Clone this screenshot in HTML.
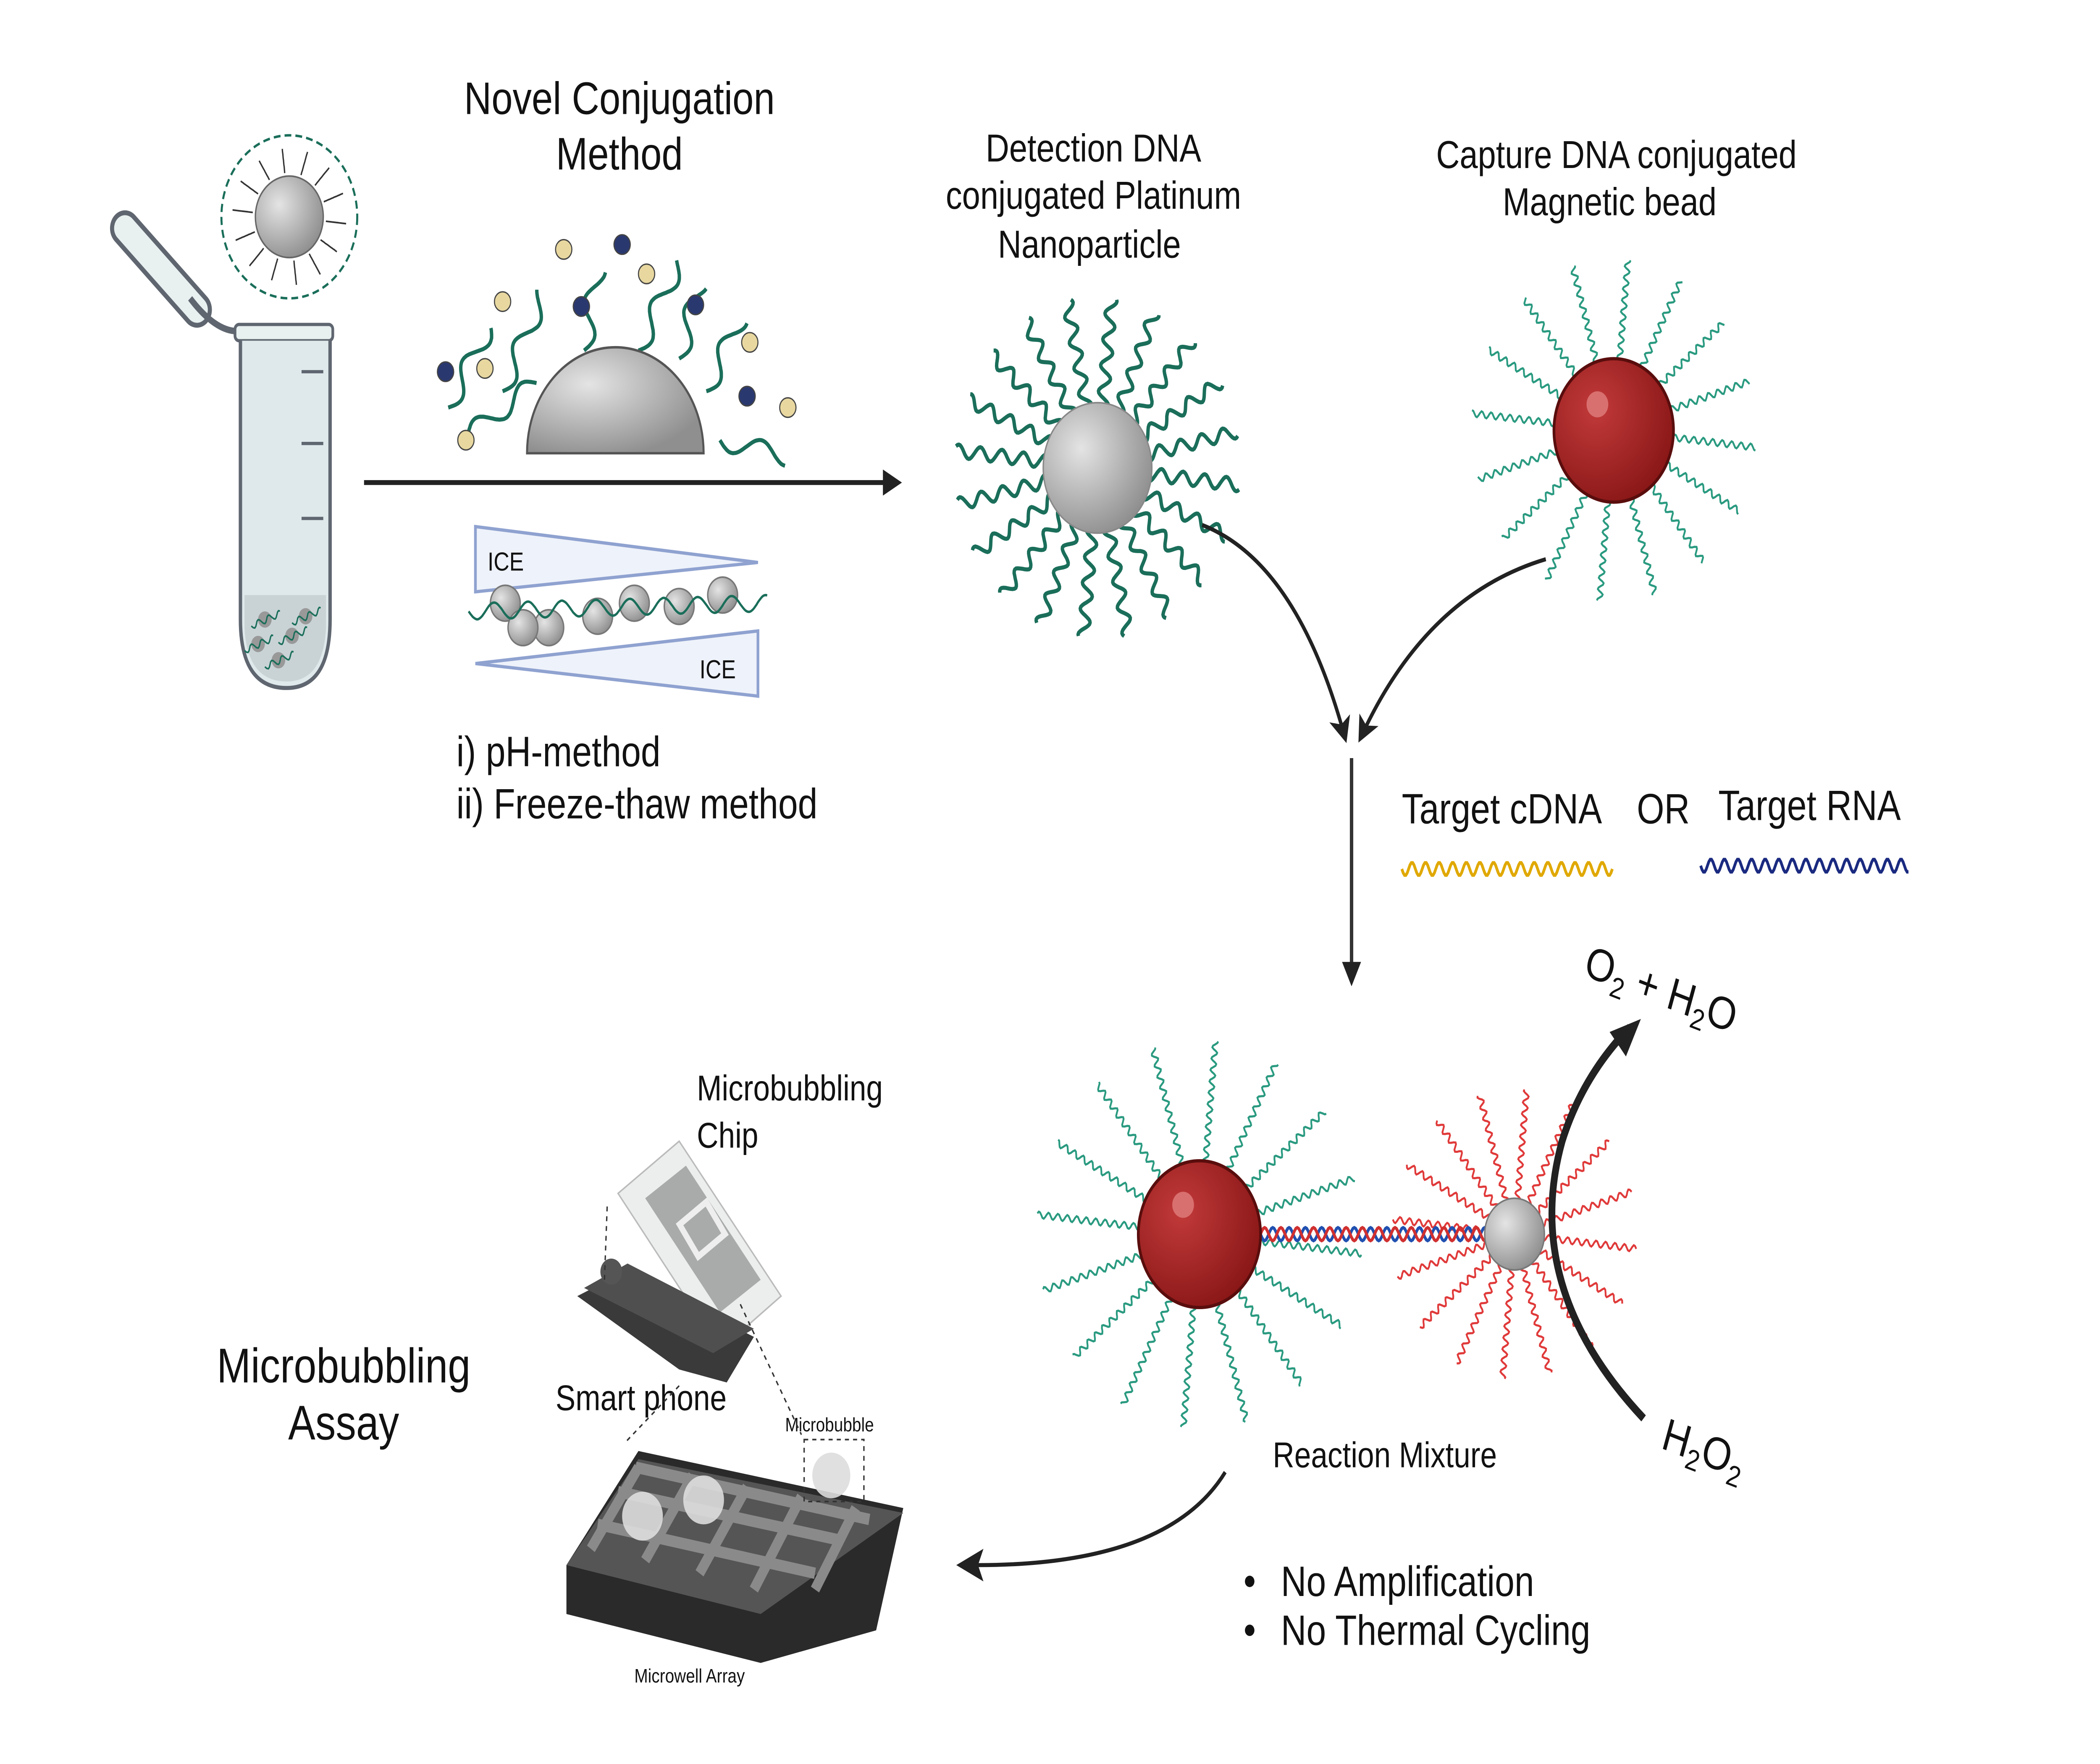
<!DOCTYPE html>
<html><head><meta charset="utf-8"><style>
html,body{margin:0;padding:0;background:#fff;width:100%;height:100%;overflow:hidden}
svg{display:block;position:absolute;left:0;top:0}
text{font-family:"Liberation Sans",sans-serif;fill:#111}
</style></head><body>
<svg id="s" width="100%" height="100%" style="width:100vw;height:100vh" viewBox="0 0 1546 1082" preserveAspectRatio="none" xmlns="http://www.w3.org/2000/svg">
<defs>
<radialGradient id="gy" cx="35%" cy="35%" r="70%"><stop offset="0" stop-color="#e4e4e4"/><stop offset="1" stop-color="#8f8f8f"/></radialGradient>
<radialGradient id="rd" cx="35%" cy="35%" r="70%"><stop offset="0" stop-color="#c23a3a"/><stop offset="1" stop-color="#8a1717"/></radialGradient>
<marker id="ah2" markerWidth="16" markerHeight="16" refX="12" refY="8" orient="auto" markerUnits="userSpaceOnUse"><path d="M0,0 L16,8 L0,16 L4,8 Z" fill="#222"/></marker>
</defs>
<!-- tube -->
<path d="M92,140 L145,190" stroke="#5f6670" stroke-width="22" stroke-linecap="round"/>
<path d="M92,140 L145,190" stroke="#e8f0f0" stroke-width="16" stroke-linecap="round"/>
<path d="M140,183 Q160,205 178,203" stroke="#5f6670" stroke-width="4" fill="none"/>
<rect x="173" y="199" width="72" height="10" rx="3" fill="#e8f0f0" stroke="#5f6670" stroke-width="2"/>
<path d="M177,209 L177,380 Q177,422 211,422 Q243,422 243,380 L243,209" fill="#dfe9ec" stroke="#5f6670" stroke-width="2.5"/>
<path d="M180,365 L240,365 L240,385 Q238,418 211,418 Q182,418 180,385Z" fill="#c9d3d6"/>
<g id="tubein"></g>
<line x1="222" y1="228" x2="238" y2="228" stroke="#5f6670" stroke-width="2"/>
<line x1="222" y1="272" x2="238" y2="272" stroke="#5f6670" stroke-width="2"/>
<line x1="222" y1="318" x2="238" y2="318" stroke="#5f6670" stroke-width="2"/>
<g id="tube-np"></g>
<circle cx="213" cy="133" r="25" fill="url(#gy)" stroke="#666"/>
<!-- titles -->
<text x="456" y="70" font-size="28" text-anchor="middle">Novel Conjugation</text>
<text x="456" y="104" font-size="28" text-anchor="middle">Method</text>
<g id="dome"></g>
<path d="M388,278 A65,65 0 0 1 518,278 Z" fill="url(#gy)" stroke="#555" stroke-width="1.5"/>
<line x1="268" y1="296" x2="652" y2="296" stroke="#222" stroke-width="3"/>
<path d="M650,288 L664,296 L650,304Z" fill="#222"/>
<!-- ICE -->
<path d="M350,323 L558,345 L350,363 Z" fill="#eef2fa" stroke="#8fa2d0" stroke-width="2"/>
<path d="M558,387 L350,407 L558,427 Z" fill="#eef2fa" stroke="#8fa2d0" stroke-width="2"/>
<text x="359" y="350" font-size="16">ICE</text>
<text x="515" y="416" font-size="16">ICE</text>
<g id="ice"></g>
<text x="336" y="470" font-size="26">i) pH-method</text>
<text x="336" y="502" font-size="26">ii) Freeze-thaw method</text>
<!-- detection -->
<text x="805" y="99" font-size="24" text-anchor="middle">Detection DNA</text>
<text x="805" y="128" font-size="24" text-anchor="middle">conjugated Platinum</text>
<text x="802" y="158" font-size="24" text-anchor="middle">Nanoparticle</text>
<g id="pt"></g>
<circle cx="808" cy="287" r="40" fill="url(#gy)" stroke="#888"/>
<text x="1190" y="103" font-size="24" text-anchor="middle">Capture DNA conjugated</text>
<text x="1185" y="132" font-size="24" text-anchor="middle">Magnetic bead</text>
<g id="mb"></g>
<circle cx="1188" cy="264" r="44" fill="url(#rd)" stroke="#5a0d0d" stroke-width="2"/>
<circle cx="1176" cy="248" r="8" fill="#d97070"/>
<!-- converging arrows -->
<path d="M885,322 Q955,345 990,452" stroke="#222" stroke-width="2.5" fill="none" marker-end="url(#ah2)"/>
<path d="M1138,343 Q1050,365 1002,452" stroke="#222" stroke-width="2.5" fill="none" marker-end="url(#ah2)"/>
<line x1="995" y1="465" x2="995" y2="592" stroke="#333" stroke-width="2.5"/>
<path d="M988,590 L995,605 L1002,590Z" fill="#222"/>
<text x="1032" y="505" font-size="26">Target cDNA</text>
<text x="1205" y="505" font-size="26">OR</text>
<text x="1265" y="503" font-size="26">Target RNA</text>
<g id="tw"></g>
<!-- reaction -->
<g id="rx"></g>
<circle cx="883" cy="757" r="45" fill="url(#rd)" stroke="#5a0d0d" stroke-width="2"/>
<circle cx="871" cy="739" r="8" fill="#d97070"/>
<circle cx="1115" cy="757" r="22" fill="url(#gy)" stroke="#777"/>
<path d="M1210,870 Q1120,790 1150,700 Q1165,660 1200,630" stroke="#222" stroke-width="5" fill="none"/>
<path d="M1185,633 L1208,625 L1197,648 Z" fill="#222"/>
<text transform="translate(1165,598) rotate(18)" font-size="28">O<tspan font-size="18" dy="6">2</tspan><tspan dy="-6"> + H</tspan><tspan font-size="18" dy="6">2</tspan><tspan dy="-6">O</tspan></text>
<text transform="translate(1222,888) rotate(18)" font-size="28">H<tspan font-size="18" dy="6">2</tspan><tspan dy="-6">O</tspan><tspan font-size="18" dy="6">2</tspan></text>
<text x="937" y="900" font-size="22">Reaction Mixture</text>
<path d="M902,903 Q860,960 720,960" stroke="#222" stroke-width="2.5" fill="none"/>
<path d="M724,950 L704,960 L724,970 L720,960Z" fill="#222"/>
<circle cx="920" cy="970" r="3.5" fill="#111"/><text x="943" y="979" font-size="26">No Amplification</text>
<circle cx="920" cy="1000" r="3.5" fill="#111"/><text x="943" y="1009" font-size="26">No Thermal Cycling</text>
<!-- assay -->
<text x="253" y="848" font-size="30" text-anchor="middle">Microbubbling</text>
<text x="253" y="883" font-size="30" text-anchor="middle">Assay</text>
<text x="513" y="675" font-size="22">Microbubbling</text>
<text x="513" y="704" font-size="22">Chip</text>
<path d="M455,732 L500,700 L575,795 L530,828 Z" fill="#eceeee" stroke="#bbb"/>
<path d="M475,735 L505,715 L560,785 L530,805 Z" fill="#a9abab"/>
<rect x="505" y="742" width="24" height="24" fill="none" stroke="#eee" stroke-width="4" transform="rotate(-35 517 754)"/>
<path d="M425,795 L460,780 L555,820 L535,848 L500,840 Z" fill="#3a3a3a"/>
<path d="M430,790 L462,775 L555,815 L525,830 Z" fill="#4f4f4f"/>
<circle cx="450" cy="780" r="8" fill="#555"/>
<text x="409" y="865" font-size="22">Smart phone</text>
<text x="578" y="878" font-size="12">Microbubble</text>
<path d="M417,960 L470,890 L665,925 L645,1000 L560,1020 L417,990 Z" fill="#2a2a2a"/>
<path d="M417,960 L470,895 L665,928 L560,990 Z" fill="#555"/>
<g stroke="#8a8a8a" stroke-width="7">
<line x1="440" y1="935" x2="600" y2="965"/><line x1="455" y1="915" x2="620" y2="945"/><line x1="468" y1="900" x2="640" y2="932"/>
<line x1="470" y1="900" x2="435" y2="950"/><line x1="510" y1="905" x2="475" y2="957"/><line x1="550" y1="912" x2="515" y2="965"/><line x1="590" y1="918" x2="555" y2="975"/><line x1="630" y1="925" x2="600" y2="975"/>
</g>
<circle cx="473" cy="930" r="15" fill="#ddd" opacity=".9"/><circle cx="518" cy="920" r="15" fill="#ddd" opacity=".9"/><circle cx="612" cy="905" r="14" fill="#ddd" opacity=".9"/>
<rect x="592" y="883" width="44" height="38" fill="none" stroke="#333" stroke-dasharray="3,3"/>
<text x="467" y="1032" font-size="12">Microwell Array</text>
<g stroke="#333" stroke-dasharray="3,3" fill="none"><line x1="445" y1="785" x2="447" y2="740"/><line x1="545" y1="800" x2="590" y2="880"/><line x1="500" y1="850" x2="460" y2="885"/></g>
</svg>
<script>
const NS="http://www.w3.org/2000/svg";
function el(g,tag,a){const e=document.createElementNS(NS,tag);for(const k in a)e.setAttribute(k,a[k]);document.getElementById(g).appendChild(e);return e;}
function wav(x1,y1,x2,y2,amp,wl){const dx=x2-x1,dy=y2-y1,L=Math.hypot(dx,dy),ux=dx/L,uy=dy/L;let d="";for(let t=0;t<=L;t+=1){const o=amp*Math.sin(t/wl*2*Math.PI);const x=x1+ux*t-uy*o,y=y1+uy*t+ux*o;d+=(t?"L":"M")+x.toFixed(1)+","+y.toFixed(1);}return d;}
function star(g,cx,cy,r0,r1,n,col,amp,wl,sw){for(let i=0;i<n;i++){const a=i/n*2*Math.PI+0.1;el(g,"path",{d:wav(cx+r0*Math.cos(a),cy+r0*Math.sin(a),cx+r1*Math.cos(a),cy+r1*Math.sin(a),amp,wl),stroke:col,"stroke-width":sw,fill:"none"});}}
star("pt",808,287,35,105,20,"#1a6e5a",4,16,2.5);
star("mb",1188,264,40,105,16,"#2a9a80",2,7,1.3);
star("rx",883,757,40,120,16,"#2a9a80",2,7,1.3);
star("rx",1115,757,20,90,16,"#e03a3a",2,7,1.3);
el("rx","path",{d:wav(928,757,1095,757,4,12),stroke:"#2050b0","stroke-width":2,fill:"none"});
el("rx","path",{d:wav(928,757,1095,757,-4,12),stroke:"#d03030","stroke-width":2,fill:"none"});
el("tw","path",{d:wav(1032,533,1187,533,4,10),stroke:"#e0a800","stroke-width":2,fill:"none"});
el("tw","path",{d:wav(1252,531,1405,531,4,10),stroke:"#1a2a80","stroke-width":2,fill:"none"});
el("tube-np","circle",{cx:213,cy:133,r:50,fill:"none",stroke:"#1a6e5a","stroke-width":1.5,"stroke-dasharray":"5,3"});
star("tube-np",213,133,27,42,14,"#333",0,10,1);
[[195,380],[215,390],[205,405],[225,378],[190,395]].forEach(p=>{el("tubein","circle",{cx:p[0],cy:p[1],r:5,fill:"#999"});el("tubein","path",{d:wav(p[0]-10,p[1]+4,p[0]+12,p[1]-4,2,8),stroke:"#1a6e5a","stroke-width":1,fill:"none"});});
[[330,250,360,200],[370,240,400,180],[430,215,440,165],[470,215,500,160],[520,240,545,195],[530,270,580,280],[395,235,340,270],[500,220,515,175]].forEach(p=>el("dome","path",{d:wav(p[0],p[1],p[2],p[3],6,40),stroke:"#1a6e5a","stroke-width":2.5,fill:"none"}));
[[328,228,"#2a3870"],[357,226,"#e8d8a0"],[415,153,"#e8d8a0"],[458,150,"#2a3870"],[428,188,"#2a3870"],[512,187,"#2a3870"],[550,243,"#2a3870"],[580,250,"#e8d8a0"],[552,210,"#e8d8a0"],[343,270,"#e8d8a0"],[370,185,"#e8d8a0"],[476,168,"#e8d8a0"]].forEach(p=>el("dome","circle",{cx:p[0],cy:p[1],r:6,fill:p[2],stroke:"#444","stroke-width":.8}));
[[372,370],[404,385],[440,378],[467,370],[500,372],[532,365],[385,385]].forEach(p=>{el("ice","circle",{cx:p[0],cy:p[1],r:11,fill:"url(#gy)",stroke:"#777"});});
el("ice","path",{d:wav(345,375,565,370,5,25),stroke:"#1a6e5a","stroke-width":1.5,fill:"none"});
</script>
</body></html>
